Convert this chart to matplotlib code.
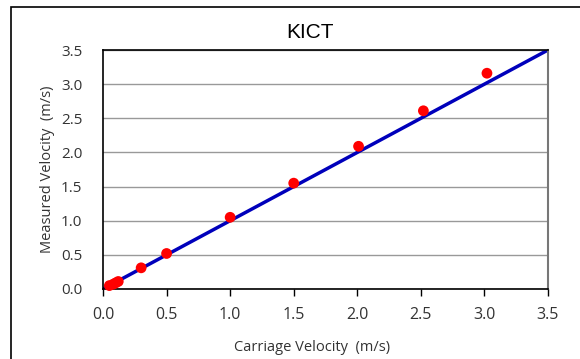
import matplotlib.pyplot as plt
from matplotlib.patches import Rectangle
import numpy as np

# Carriage velocity vs measured velocity (m/s)
carriage = [0.05, 0.08, 0.10, 0.12, 0.30, 0.50, 1.00, 1.50, 2.01, 2.52, 3.02]
measured = [0.05, 0.07, 0.09, 0.11, 0.31, 0.52, 1.05, 1.55, 2.09, 2.61, 3.16]
fit_x = [0.0, 3.5]
fit_y = [0.0, 3.5]
ticks = np.arange(0, 3.51, 0.5)

plt.rcParams['font.family'] = ['Open Sans', 'DejaVu Sans']

fig = plt.figure(figsize=(5.8, 3.59), dpi=100)
ax = fig.add_axes([0.1776, 0.195, 0.7672, 0.6657])

# outer chart border (cropped at right/bottom)
fig.add_artist(Rectangle((11 / 580, -0.1), 1.2, 1 - 7 / 359 + 0.1, transform=fig.transFigure,
                         fill=False, edgecolor='black', linewidth=1.2))

ax.plot(fit_x, fit_y, color='#0000bb', linewidth=2.5, zorder=2)
ax.scatter(carriage, measured, s=60, color='#ff0000', edgecolors='none', zorder=3, clip_on=False)

ax.set_xlim(0, 3.5)
ax.set_ylim(0, 3.5)
ax.set_xticks(ticks)
ax.set_yticks(ticks)
ax.set_xticklabels([f'{t:.1f}' for t in ticks], fontsize=11.5, color='#333333')
ax.set_yticklabels([f'{t:.1f}' for t in ticks], fontsize=11, color='#333333')
ax.tick_params(axis='y', length=0, pad=15)
ax.tick_params(axis='x', length=5, width=1, direction='out', pad=8)
ax.yaxis.grid(True, color='#999999', linewidth=1)
ax.set_axisbelow(True)

for side in ['left', 'bottom', 'top']:
    ax.spines[side].set_color('black')
    ax.spines[side].set_linewidth(1.2)
ax.spines['right'].set_color('#777777')
ax.spines['right'].set_linewidth(1.5)

ax.set_xlabel('Carriage Velocity  (m/s)', fontsize=10.5, color='#333333', labelpad=12)
ax.xaxis.label.set_x(0.47)
ax.set_ylabel('Measured Velocity  (m/s)', fontsize=10.5, color='#333333', labelpad=4)
fig.text(0.535, 1 - 33 / 359, 'KICT', fontsize=15, family='Liberation Sans', ha='center', va='center')

fig.savefig('out.png', dpi=100)
